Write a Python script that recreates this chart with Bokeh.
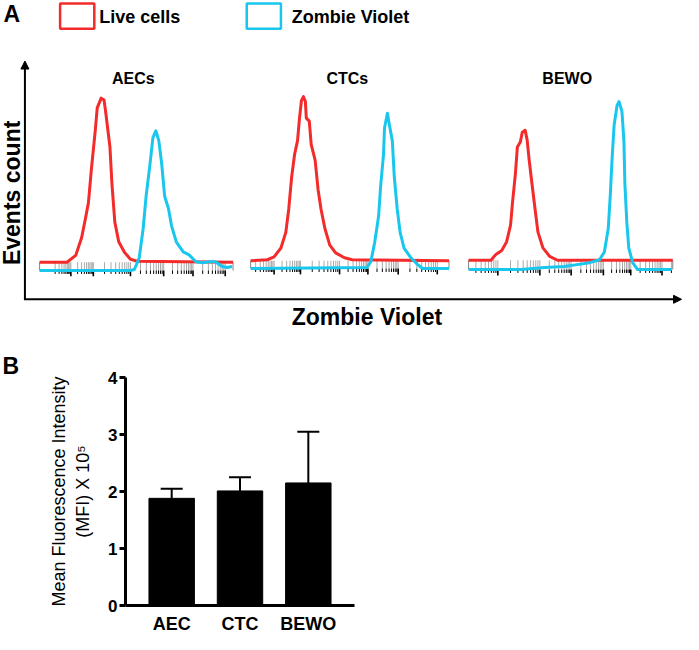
import math
from bokeh.plotting import figure
from bokeh.layouts import column
from bokeh.models import (Range1d, Arrow, NormalHead, ColumnDataSource, Whisker,
                          TeeHead, Title, FactorRange, FixedTicker)
from bokeh.core.properties import value
from bokeh.embed import file_html
from bokeh.resources import INLINE

FONT = "Liberation Sans"
RED = "#F32B2B"
CYAN = "#19C6EE"

# ---------------- data: panel A (flow cytometry histograms) ----------------
legend_labels = ["Live cells", "Zombie Violet"]
sample_titles = ["AECs", "CTCs", "BEWO"]

aec_live_ch = [0, 28, 37, 43, 47, 50, 53, 57, 59, 63, 66, 68, 72, 74, 77, 81, 87, 93, 100, 198]
aec_live_ct = [0, 0, 7, 25, 45, 61, 95, 135, 158, 168, 166, 151, 118, 81, 41, 21, 10, 3, 1, 0]
aec_zv_ch = [0, 93, 97, 102, 106, 109, 113, 116, 119, 122, 125, 128, 132, 135, 140, 147, 153,
             160, 167, 173, 180, 187, 192, 197]
aec_zv_ct = [0, 0, 1, 13, 43, 76, 109, 136, 143, 133, 109, 76, 63, 46, 29, 19, 16,
             9, 8, 9, 9, 4, 3, 4]

ctc_live_ch = [0, 17, 24, 31, 36, 39, 42, 45, 48, 50, 52, 54, 56, 57, 60, 62, 66, 69, 72, 76,
               81, 87, 96, 104, 203]
ctc_live_ct = [0, 1, 4, 13, 29, 53, 86, 109, 123, 146, 164, 168, 163, 146, 143, 119, 103, 73,
               53, 33, 16, 8, 3, 1, 0]
ctc_zv_ch = [0, 119, 123, 127, 131, 133, 136, 137, 140, 142, 145, 147, 150, 153, 157, 164, 171,
             176, 203]
ctc_zv_ct = [0, 1, 7, 27, 54, 84, 117, 144, 159, 147, 131, 94, 61, 37, 21, 11, 4, 0, 0]

bewo_live_ch = [0, 23, 28, 34, 39, 43, 45, 48, 50, 53, 55, 58, 60, 62, 64, 68, 71, 76, 83, 91, 209]
bewo_live_ct = [0, 0, 6, 10, 19, 36, 59, 89, 116, 121, 131, 133, 123, 103, 86, 53, 29, 13, 4, 0, 0]
bewo_zv_ch = [0, 21, 54, 78, 98, 111, 124, 134, 139, 143, 145, 147, 149, 152, 154, 157, 159,
              160, 162, 164, 168, 173, 208]
bewo_zv_ct = [0, 0, 0, 2, 3, 5, 7, 10, 18, 42, 75, 115, 148, 168, 172, 162, 132, 88, 48, 22, 7,
              0, 0]

# decade tick positions (channels) of each histogram's own axis
aec_decades = [32, 55, 93, 127, 157, 190]
ctc_decades = [24, 51, 91, 120, 151, 191]
bewo_decades = [30, 73, 105, 138, 166, 198]

# ---------------- data: panel B (bar chart) ----------------
bar_categories = ["AEC", "CTC", "BEWO"]
mfi_mean = [1.88, 2.01, 2.15]
mfi_sd = [0.17, 0.24, 0.90]
mfi_ticks = [0, 1, 2, 3, 4]

# ---------------- panel A ----------------
pa = figure(width=683, height=332, x_range=Range1d(0, 699), y_range=Range1d(340, 0),
            output_backend="svg", toolbar_location=None, min_border=0, frame_align=False,
            x_axis_location=None, y_axis_location=None, outline_line_color=None)
pa.grid.visible = False

panels = [
    dict(left=40, width=198, base_live=268, base_zv=276.5,
         live=(aec_live_ch, aec_live_ct), zv=(aec_zv_ch, aec_zv_ct), dec=aec_decades, tx=136),
    dict(left=256, width=203, base_live=266.5, base_zv=274.5,
         live=(ctc_live_ch, ctc_live_ct), zv=(ctc_zv_ch, ctc_zv_ct), dec=ctc_decades, tx=355),
    dict(left=479, width=209, base_live=266, base_zv=275.5,
         live=(bewo_live_ch, bewo_live_ct), zv=(bewo_zv_ch, bewo_zv_ct), dec=bewo_decades, tx=580),
]

for i, pn in enumerate(panels):
    L, W = pn["left"], pn["width"]
    bl, bz = pn["base_live"], pn["base_zv"]
    dec = pn["dec"]
    step0 = dec[1] - dec[0]
    stepn = dec[-1] - dec[-2]
    seq = [dec[0] - step0] + dec + [dec[-1] + stepn]
    minors = []
    for a, b in zip(seq[:-1], seq[1:]):
        for m in range(2, 10):
            t = a + math.log10(m) * (b - a)
            if 0 <= t <= W and t not in dec:
                minors.append(t)
    majors = [d for d in dec if 0 <= d <= W]
    allt = minors + majors
    pa.segment(x0=[L + t for t in allt], y0=[bl] * len(allt), x1=[L + t for t in allt],
               y1=[bz] * len(allt), line_color="#a0a0a0", line_width=0.9)
    pa.segment(x0=[L, L + W], y0=[bl, bl], x1=[L, L + W], y1=[bz, bz],
               line_color="#666666", line_width=0.8)
    pa.segment(x0=[L + t for t in minors], y0=[bz] * len(minors), x1=[L + t for t in minors],
               y1=[bz + 3.5] * len(minors), line_color="black", line_width=1)
    pa.segment(x0=[L + t for t in majors], y0=[bz] * len(majors), x1=[L + t for t in majors],
               y1=[bz + 6] * len(majors), line_color="black", line_width=1.6)
    lch, lct = pn["live"]
    zch, zct = pn["zv"]
    pa.line([L + c for c in lch], [bl - v for v in lct], line_color=RED, line_width=3,
            line_join="round")
    pa.line([L + c for c in zch], [bz - v for v in zct], line_color=CYAN, line_width=3,
            line_join="round")

pa.text(x=[pn["tx"] for pn in panels], y=[80] * 3, text=sample_titles,
        text_align="center", text_baseline="middle", text_font=value(FONT),
        text_font_style="bold", text_font_size="16px", text_color="black")

# legend
pa.rect(x=[78.5, 269.5], y=[16, 16], width=35, height=26, fill_color=None,
        line_color=[RED, CYAN], line_width=2.5)
pa.text(x=[101, 298], y=[17, 17], text=legend_labels, text_align="left",
        text_baseline="middle", text_font=value(FONT), text_font_style="bold",
        text_font_size="18px", text_color="black")
pa.text(x=[3], y=[14], text=["A"], text_align="left", text_baseline="middle",
        text_font=value(FONT), text_font_style="bold", text_font_size="23px")

# arrow axes
pa.add_layout(Arrow(x_start=25, y_start=306, x_end=25, y_end=62, line_width=2,
                    end=NormalHead(size=8, fill_color="black", line_color="black")))
pa.add_layout(Arrow(x_start=24, y_start=306, x_end=697, y_end=306, line_width=2,
                    end=NormalHead(size=8, fill_color="black", line_color="black")))
pa.text(x=[12], y=[197], text=["Events count"], angle=math.pi / 2, text_align="center",
        text_baseline="middle", text_font=value(FONT), text_font_style="bold",
        text_font_size="23px")
pa.text(x=[375], y=[324], text=["Zombie Violet"], text_align="center",
        text_baseline="middle", text_font=value(FONT), text_font_style="bold",
        text_font_size="23px")

# ---------------- panel B ----------------
pb = figure(x_range=FactorRange(factors=bar_categories, range_padding=0.176,
                                range_padding_units="absolute"),
            y_range=Range1d(0, 4), frame_width=229, frame_height=228, frame_align=False,
            min_border_left=125, min_border_right=329, min_border_top=45, min_border_bottom=29,
            output_backend="svg", toolbar_location=None, outline_line_color=None)
pb.grid.visible = False
pb.vbar(x=bar_categories, top=mfi_mean, width=0.665, fill_color="black", line_color="black")
src = ColumnDataSource(dict(x=bar_categories, lower=mfi_mean,
                            upper=[m + s for m, s in zip(mfi_mean, mfi_sd)]))
pb.add_layout(Whisker(source=src, base="x", lower="lower", upper="upper", line_width=2,
                      line_color="black", lower_head=None,
                      upper_head=TeeHead(size=22, line_width=2, line_color="black")))

pb.yaxis.ticker = FixedTicker(ticks=mfi_ticks)
pb.yaxis.minor_tick_line_color = None
pb.yaxis.major_tick_out = 6
pb.yaxis.major_tick_in = 0
pb.yaxis.major_tick_line_width = 3
pb.yaxis.major_label_standoff = 2
pb.yaxis.axis_line_width = 3
pb.yaxis.major_label_text_font = FONT
pb.yaxis.major_label_text_font_style = "bold"
pb.yaxis.major_label_text_font_size = "17px"
pb.yaxis.major_label_text_color = "black"
pb.yaxis.axis_label = "Mean Fluorescence Intensity\n(MFI) X 10\u2075"
pb.yaxis.axis_label_text_font = FONT
pb.yaxis.axis_label_text_font_style = "normal"
pb.yaxis.axis_label_text_font_size = "18px"
pb.yaxis.axis_label_text_color = "black"
pb.yaxis.axis_label_standoff = 12

pb.xaxis.major_tick_out = 0
pb.xaxis.major_tick_in = 0
pb.xaxis.minor_tick_line_color = None
pb.xaxis.axis_line_width = 3
pb.xaxis.major_label_standoff = 8
pb.xaxis.major_label_text_font = FONT
pb.xaxis.major_label_text_font_style = "bold"
pb.xaxis.major_label_text_font_size = "18px"
pb.xaxis.major_label_text_color = "black"

pb.add_layout(Title(text="B", align="left", offset=-123, standoff=-2, text_color="black",
                    text_font=FONT, text_font_style="bold", text_font_size="23px"), "above")

layout = column(pa, pb, spacing=0)
open("out.html", "w").write(file_html(layout, INLINE))
